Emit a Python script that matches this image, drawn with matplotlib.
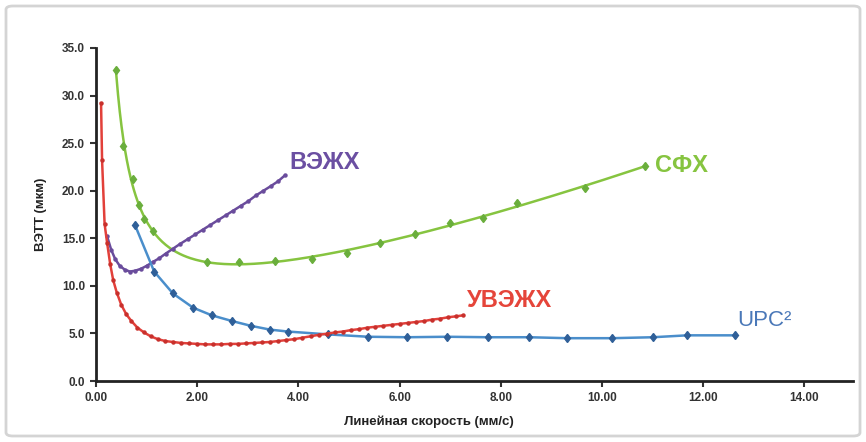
import matplotlib
matplotlib.use("Agg")
import numpy as np
import matplotlib.pyplot as plt
from matplotlib.patches import FancyBboxPatch

# ---- data ----
sfc_x = [0.40, 0.53, 0.73, 0.85, 0.95, 1.13, 2.19, 2.83, 3.54, 4.27, 4.96, 5.61, 6.30, 7.00, 7.65, 8.32, 9.66, 10.85]
sfc_y = [32.7, 24.7, 21.2, 18.5, 17.0, 15.8, 12.5, 12.5, 12.6, 12.8, 13.5, 14.5, 15.4, 16.6, 17.1, 18.7, 20.3, 22.6]

hplc_x = [0.22, 0.30, 0.38, 0.47, 0.57, 0.67, 0.78, 0.89, 1.00, 1.12, 1.25, 1.38, 1.52, 1.66, 1.81, 1.96,
          2.11, 2.26, 2.41, 2.56, 2.71, 2.86, 3.01, 3.16, 3.31, 3.46, 3.60, 3.73]
hplc_y = [15.2, 13.8, 12.8, 12.1, 11.7, 11.5, 11.6, 11.8, 12.1, 12.5, 12.9, 13.4, 13.9, 14.4, 14.9, 15.4,
          15.9, 16.4, 16.9, 17.4, 17.9, 18.4, 18.9, 19.5, 20.0, 20.5, 21.0, 21.6]

uhplc_x = [0.10, 0.12, 0.17, 0.22, 0.28, 0.34, 0.41, 0.50, 0.60, 0.70, 0.82, 0.95, 1.08, 1.22, 1.37, 1.52,
           1.68, 1.84, 2.00, 2.16, 2.32, 2.48, 2.64, 2.80, 2.96, 3.12, 3.28, 3.44, 3.60, 3.76, 3.92, 4.08,
           4.24, 4.40, 4.56, 4.72, 4.88, 5.04, 5.20, 5.36, 5.52, 5.68, 5.84, 6.00, 6.16, 6.32, 6.48, 6.64,
           6.80, 6.96, 7.12, 7.25]
uhplc_y = [29.2, 23.2, 16.5, 14.5, 12.3, 10.6, 9.3, 8.0, 7.0, 6.3, 5.6, 5.1, 4.7, 4.4, 4.2, 4.1,
           4.0, 3.95, 3.9, 3.85, 3.85, 3.85, 3.9, 3.9, 3.95, 4.0, 4.05, 4.1, 4.2, 4.3, 4.4, 4.55,
           4.7, 4.85, 4.97, 5.1, 5.2, 5.35, 5.45, 5.6, 5.7, 5.8, 5.9, 6.0, 6.1, 6.2, 6.3, 6.45,
           6.55, 6.7, 6.8, 6.9]

upc_x = [0.77, 1.15, 1.52, 1.92, 2.29, 2.69, 3.06, 3.44, 3.79, 4.58, 5.38, 6.15, 6.94, 7.75, 8.56, 9.31,
         10.20, 11.01, 11.68, 12.63]
upc_y = [16.4, 11.5, 9.2, 7.7, 6.9, 6.3, 5.8, 5.4, 5.2, 4.9, 4.65, 4.6, 4.65, 4.6, 4.6, 4.5,
         4.5, 4.6, 4.8, 4.8]

series_labels = ["СФХ", "ВЭЖХ", "УВЭЖХ", "UPC²"]
x_ticks = [0, 2, 4, 6, 8, 10, 12, 14]
y_ticks = [0, 5, 10, 15, 20, 25, 30, 35]
x_title = "Линейная скорость (мм/с)"
y_title = "ВЭТТ (мкм)"


def van_deemter_fit(xs, ys):
    """Least-squares fit H = A + B/u + C*u + D*u^2 to the read points (trend line)."""
    u = np.asarray(xs, float)
    h = np.asarray(ys, float)
    M = np.column_stack([np.ones_like(u), 1 / u, u, u ** 2])
    coef, *_ = np.linalg.lstsq(M, h, rcond=None)
    uu = np.linspace(u.min(), u.max(), 300)
    return uu, coef[0] + coef[1] / uu + coef[2] * uu + coef[3] * uu ** 2


# ---- styling ----
W, H = 866, 442
fig = plt.figure(figsize=(W / 100, H / 100), dpi=100)
fig.patches.append(FancyBboxPatch((6 / W, 6 / H), (W - 12) / W, (H - 12) / H,
                                  boxstyle="round,pad=0,rounding_size=0.008",
                                  transform=fig.transFigure, facecolor="none",
                                  edgecolor="#d4d4d4", linewidth=2.0))

ax = fig.add_axes([96 / W, 1 - 381 / H, (853 - 96) / W, (381 - 48) / H])

green, green_m = "#86C440", "#6AAE3C"
purple = "#6A4C9C"
red = "#E2403A"
blue, blue_m = "#4A8ECB", "#2F5F98"

# SFC: markers plus smooth trend line through them
fx, fy = van_deemter_fit(sfc_x, sfc_y)
ax.plot(fx, fy, color=green, lw=1.8, zorder=3)
ax.plot(sfc_x, sfc_y, ls="none", marker="d", ms=4.5, mfc=green_m, mec=green_m, zorder=3)

ax.plot(hplc_x, hplc_y, color=purple, lw=1.8, marker="o", ms=2.2, mfc=purple, mec=purple, zorder=4)
ax.plot(uhplc_x, uhplc_y, color=red, lw=1.8, marker="o", ms=2.2, mfc="#C8302C", mec="#C8302C", zorder=5)
ax.plot(upc_x, upc_y, color=blue, lw=1.8, marker="d", ms=4.5, mfc=blue_m, mec=blue_m, zorder=4)

lab_font = "Liberation Sans"
ax.text(11.05, 22.7, series_labels[0], color="#86C440", fontsize=17, fontweight="bold",
        family=lab_font, va="center", ha="left")
ax.text(3.83, 23.0, series_labels[1], color="#6B4FA2", fontsize=17, fontweight="bold",
        family=lab_font, va="center", ha="left")
ax.text(7.33, 8.5, series_labels[2], color="#E5453A", fontsize=17, fontweight="bold",
        family=lab_font, va="center", ha="left")
ax.text(12.67, 6.4, series_labels[3], color="#4A78B8", fontsize=16,
        family=lab_font, va="center", ha="left")

ax.set_xlim(0, 14.96)
ax.set_ylim(0, 35)
ax.set_xticks(x_ticks)
ax.set_xticklabels([f"{v:.2f}" for v in x_ticks])
ax.set_yticks(y_ticks)
ax.set_yticklabels([f"{v:.1f}" for v in y_ticks])
for s in ("top", "right"):
    ax.spines[s].set_visible(False)
for s in ("left", "bottom"):
    ax.spines[s].set_linewidth(2.0)
    ax.spines[s].set_color("#222222")
ax.tick_params(direction="out", length=4, width=1.5, color="#333333",
               labelsize=8.5, labelcolor="#333333", pad=4)
for lbl in ax.get_xticklabels() + ax.get_yticklabels():
    lbl.set_fontweight("bold")
    lbl.set_family(lab_font)

ax.set_xlabel(x_title, fontsize=9.5, fontweight="bold", family=lab_font, color="#222222")
ax.xaxis.set_label_coords(0.44, -0.105)
ax.set_ylabel(y_title, fontsize=9.5, fontweight="bold", family=lab_font, color="#222222")
ax.yaxis.set_label_coords(-0.065, 0.5)

fig.savefig("out.png", dpi=100)
